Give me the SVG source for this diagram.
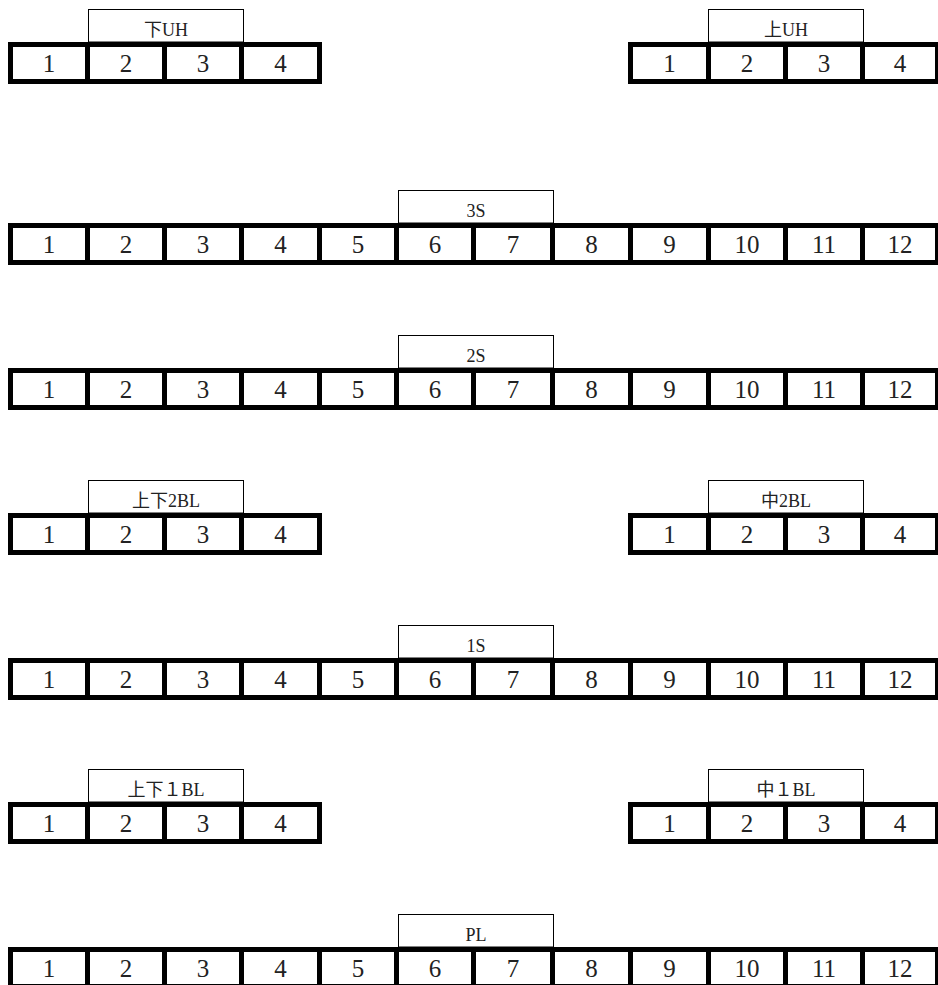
<svg xmlns="http://www.w3.org/2000/svg" width="938" height="985" viewBox="0 0 938 985">
<style>
.bar{fill:#000}
.cell{fill:#fff}
.lab{fill:#fff;stroke:#000;stroke-width:1}
.num{font-family:"Liberation Serif","Noto Sans CJK JP",serif;font-size:25px;fill:#222;text-anchor:middle}
.lt{font-family:"Liberation Serif","Noto Sans CJK JP",serif;font-size:18px;fill:#222;text-anchor:middle}
</style>
<defs>
<g id="row12">
<rect class="bar" x="8" y="0" width="932" height="42"/>
<rect class="cell" x="13" y="5" width="72" height="32"/>
<rect class="cell" x="90" y="5" width="72" height="32"/>
<rect class="cell" x="167" y="5" width="72" height="32"/>
<rect class="cell" x="244" y="5" width="73" height="32"/>
<rect class="cell" x="322" y="5" width="72" height="32"/>
<rect class="cell" x="399" y="5" width="72" height="32"/>
<rect class="cell" x="476" y="5" width="74" height="32"/>
<rect class="cell" x="555" y="5" width="73" height="32"/>
<rect class="cell" x="633" y="5" width="73" height="32"/>
<rect class="cell" x="711" y="5" width="72" height="32"/>
<rect class="cell" x="788" y="5" width="72" height="32"/>
<rect class="cell" x="865" y="5" width="70" height="32"/>
<text class="num" x="49" y="30">1</text>
<text class="num" x="126" y="30">2</text>
<text class="num" x="203" y="30">3</text>
<text class="num" x="280.5" y="30">4</text>
<text class="num" x="358" y="30">5</text>
<text class="num" x="435" y="30">6</text>
<text class="num" x="513" y="30">7</text>
<text class="num" x="591.5" y="30">8</text>
<text class="num" x="669.5" y="30">9</text>
<text class="num" x="747" y="30">10</text>
<text class="num" x="824" y="30">11</text>
<text class="num" x="900" y="30">12</text>
</g>
<g id="row4L">
<rect class="bar" x="8" y="0" width="314" height="42"/>
<rect class="cell" x="13" y="5" width="72" height="32"/>
<rect class="cell" x="90" y="5" width="72" height="32"/>
<rect class="cell" x="167" y="5" width="72" height="32"/>
<rect class="cell" x="244" y="5" width="73" height="32"/>
<text class="num" x="49" y="30">1</text>
<text class="num" x="126" y="30">2</text>
<text class="num" x="203" y="30">3</text>
<text class="num" x="280.5" y="30">4</text>
</g>
<g id="row4R">
<rect class="bar" x="628" y="0" width="312" height="42"/>
<rect class="cell" x="633" y="5" width="73" height="32"/>
<rect class="cell" x="711" y="5" width="72" height="32"/>
<rect class="cell" x="788" y="5" width="72" height="32"/>
<rect class="cell" x="865" y="5" width="70" height="32"/>
<text class="num" x="669.5" y="30">1</text>
<text class="num" x="747" y="30">2</text>
<text class="num" x="824" y="30">3</text>
<text class="num" x="900" y="30">4</text>
</g>
</defs>
<rect x="0" y="0" width="938" height="985" fill="#fff"/>

<g id="row-UH-lower">
<use href="#row4L" y="42"/>
<rect class="lab" x="88.5" y="9.5" width="155" height="32.5"/>
<text class="lt" x="166" y="36">下UH</text>
</g>
<g id="row-UH-upper">
<use href="#row4R" y="42"/>
<rect class="lab" x="708.5" y="9.5" width="155" height="32.5"/>
<text class="lt" x="786" y="36">上UH</text>
</g>

<g id="row-3S">
<use href="#row12" y="223"/>
<rect class="lab" x="398.5" y="190.5" width="155" height="32.5"/>
<text class="lt" x="476" y="217">3S</text>
</g>

<g id="row-2S">
<use href="#row12" y="368"/>
<rect class="lab" x="398.5" y="335.5" width="155" height="32.5"/>
<text class="lt" x="476" y="362">2S</text>
</g>

<g id="row-2BL-ud">
<use href="#row4L" y="513"/>
<rect class="lab" x="88.5" y="480.5" width="155" height="32.5"/>
<text class="lt" x="166" y="507">上下2BL</text>
</g>
<g id="row-2BL-mid">
<use href="#row4R" y="513"/>
<rect class="lab" x="708.5" y="480.5" width="155" height="32.5"/>
<text class="lt" x="786" y="507">中2BL</text>
</g>

<g id="row-1S">
<use href="#row12" y="658"/>
<rect class="lab" x="398.5" y="625.5" width="155" height="32.5"/>
<text class="lt" x="476" y="652">1S</text>
</g>

<g id="row-1BL-ud">
<use href="#row4L" y="802"/>
<rect class="lab" x="88.5" y="769.5" width="155" height="32.5"/>
<text class="lt" x="166" y="796">上下１BL</text>
</g>
<g id="row-1BL-mid">
<use href="#row4R" y="802"/>
<rect class="lab" x="708.5" y="769.5" width="155" height="32.5"/>
<text class="lt" x="786" y="796">中１BL</text>
</g>

<g id="row-PL">
<use href="#row12" y="947"/>
<rect class="lab" x="398.5" y="914.5" width="155" height="32.5"/>
<text class="lt" x="476" y="941">PL</text>
</g>
<g id="connectors"/>
</svg>
